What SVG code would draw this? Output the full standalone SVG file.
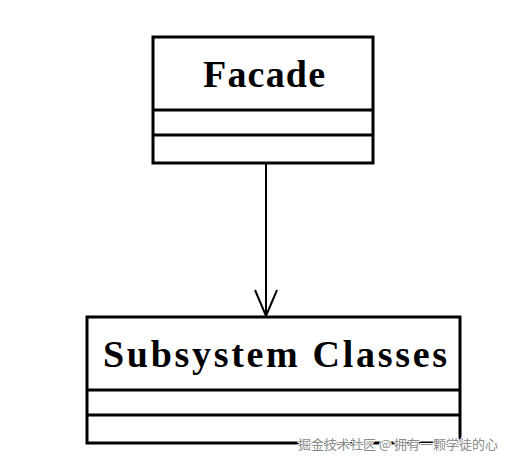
<svg xmlns="http://www.w3.org/2000/svg" width="508" height="464" viewBox="0 0 508 464">
<style>
.box{fill:#fff;stroke:#000;stroke-width:3}
.div{stroke:#000;stroke-width:3}
.title{font-family:"Liberation Serif","Times New Roman",serif;font-weight:bold;font-size:38px;fill:#000;text-anchor:middle}
.conn{stroke:#000;stroke-width:2;fill:none}
.wm{font-family:"Noto Sans CJK SC","Noto Sans",sans-serif;font-size:13px;fill:#8a8a8a;stroke:#fff;stroke-width:2;paint-order:stroke}
</style>
<rect width="508" height="464" fill="#fff"/>
<g id="connectors">
<line class="conn" x1="266" y1="163" x2="266" y2="316"/>
<polyline class="conn" points="255,290 266,316 277,290"/>
</g>
<g id="facade">
<rect class="box" x="153" y="37" width="220" height="126"/>
<line class="div" x1="153" y1="110" x2="373" y2="110"/>
<line class="div" x1="153" y1="135" x2="373" y2="135"/>
<text class="title" x="264" y="87" textLength="122" lengthAdjust="spacing">Facade</text>
</g>
<g id="subsystem">
<rect class="box" x="87" y="317" width="373" height="126"/>
<line class="div" x1="87" y1="390" x2="460" y2="390"/>
<line class="div" x1="87" y1="415" x2="460" y2="415"/>
<text class="title" x="275" y="367" textLength="344" lengthAdjust="spacing">Subsystem Classes</text>
</g>
<text class="wm" x="298" y="449">掘金技术社区 @ 拥有一颗学徒的心</text>
</svg>
